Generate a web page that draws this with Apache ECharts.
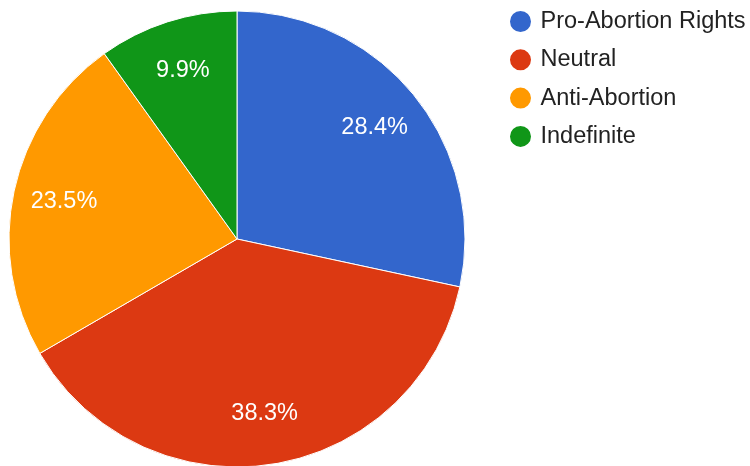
<!DOCTYPE html>
<html>
<head>
<meta charset="utf-8">
<script src="https://cdn.jsdelivr.net/npm/echarts@6/dist/echarts.min.js"></script>
<style>
  html, body { margin: 0; padding: 0; background: #fff; }
  #chart { width: 750px; height: 466px; }
</style>
</head>
<body>
<div id="chart"></div>
<script>
// Stance categories and their share of responses (percent)
const categories = ['Pro-Abortion Rights', 'Neutral', 'Anti-Abortion', 'Indefinite'];
const shares = [28.4, 38.3, 23.5, 9.9];
const colors = ['#3366cc', '#dc3912', '#ff9900', '#109618'];

const data = categories.map((name, i) => ({
  name,
  value: shares[i],
  itemStyle: { color: colors[i] }
}));

const FONT = '"Liberation Sans", Arial, sans-serif';
const center = [237, 239];
const outerR = 228;

const chart = echarts.init(document.getElementById('chart'), null, { renderer: 'canvas' });
chart.setOption({
  animation: false,
  backgroundColor: '#ffffff',
  legend: {
    orient: 'vertical',
    left: 503,
    top: 4,
    icon: 'circle',
    itemWidth: 30,
    itemHeight: 23,
    itemGap: 13.3,
    selectedMode: false,
    data: categories,
    textStyle: { fontFamily: FONT, fontSize: 23.5, color: '#222222', lineHeight: 23 }
  },
  series: [
    {
      // the visible pie
      type: 'pie',
      center,
      radius: [0, outerR],
      startAngle: 90,
      clockwise: true,
      silent: true,
      label: { show: false },
      labelLine: { show: false },
      itemStyle: { borderColor: '#ffffff', borderWidth: 1 },
      data
    },
    {
      // transparent ring carrying the percentage labels further out from the centre
      type: 'pie',
      center,
      radius: [120, outerR],
      startAngle: 90,
      clockwise: true,
      silent: true,
      legendHoverLink: false,
      itemStyle: { color: 'rgba(0,0,0,0)', borderWidth: 0 },
      label: {
        show: true,
        position: 'inside',
        formatter: '{c}%',
        color: '#ffffff',
        fontFamily: FONT,
        fontSize: 23.5
      },
      labelLine: { show: false },
      data: categories.map((name, i) => ({ name, value: shares[i] }))
    }
  ]
});
</script>
</body>
</html>
